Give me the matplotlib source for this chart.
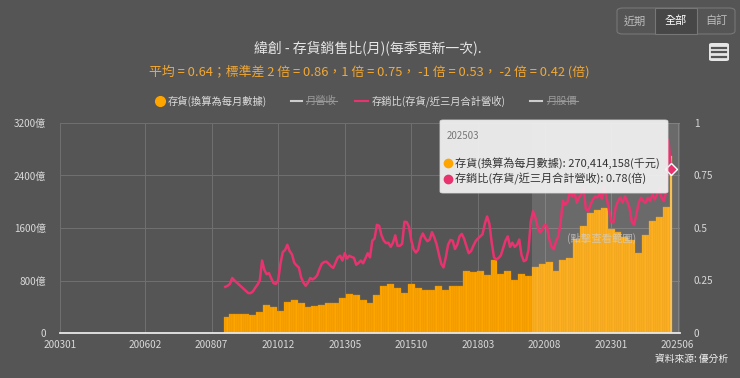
import matplotlib
matplotlib.use("Agg")
import matplotlib.pyplot as plt
from matplotlib.patches import FancyBboxPatch, Rectangle
from matplotlib.lines import Line2D
import numpy as np

plt.rcParams['font.family'] = ['Noto Sans CJK TC', 'DejaVu Sans']

# ---- data ----
tick_labels = ['200301', '200602', '200807', '201012', '201305',
               '201510', '201803', '202008', '202301', '202506']
first_month = '200901'
last_month = '202503'

# inventory in 億, one value per quarter report (2008Q4 .. 2025Q1);
# each value is shown from its quarter-end month until the next report
inventory_q = [241, 287, 287, 287, 277,
               313, 426, 395, 338,
               466, 500, 460, 395,
               415, 425, 456, 456,
               538, 595, 584, 508,
               456, 579, 723, 743,
               692, 610, 754, 682,
               651, 651, 723, 661,
               723, 723, 948, 928,
               948, 877, 1112, 892,
               943, 805, 892, 866,
               1010, 1046, 1082, 943,
               1112, 1149, 1430, 1626,
               1830, 1881, 1902, 1584,
               1533, 1456, 1420, 1215,
               1500, 1700, 1770, 1920,
               2704]

# inventory / last three months revenue, monthly 200901 .. 202503
ratio = [0.22, 0.225, 0.234, 0.262, 0.25, 0.24, 0.23, 0.22, 0.21, 0.20, 0.19, 0.19,
         0.198, 0.215, 0.23, 0.25, 0.345, 0.30, 0.28, 0.285, 0.26, 0.237, 0.234, 0.25,
         0.33, 0.385, 0.395, 0.42, 0.39, 0.375, 0.335, 0.322, 0.312, 0.265, 0.24, 0.225,
         0.24, 0.262, 0.255, 0.262, 0.275, 0.305, 0.33, 0.338, 0.34, 0.33, 0.318, 0.31,
         0.335, 0.36, 0.368, 0.345, 0.38, 0.355, 0.368, 0.362, 0.358, 0.325, 0.333, 0.345,
         0.332, 0.355, 0.38, 0.36, 0.44, 0.45, 0.515, 0.51, 0.465, 0.44, 0.428, 0.43,
         0.41, 0.43, 0.465, 0.415, 0.415, 0.425, 0.53, 0.528, 0.505, 0.44, 0.398, 0.383,
         0.397, 0.45, 0.474, 0.452, 0.437, 0.445, 0.48, 0.455, 0.423, 0.375, 0.33, 0.312,
         0.36, 0.42, 0.443, 0.44, 0.40, 0.42, 0.46, 0.472, 0.448, 0.413, 0.38, 0.39,
         0.415, 0.437, 0.45, 0.46, 0.47, 0.52, 0.555, 0.52, 0.43, 0.36, 0.35, 0.357,
         0.37, 0.405, 0.44, 0.46, 0.41, 0.43, 0.41, 0.42, 0.445, 0.37, 0.342, 0.348,
         0.395, 0.53, 0.58, 0.55, 0.505, 0.478, 0.492, 0.515, 0.51, 0.45, 0.413, 0.398,
         0.437, 0.46, 0.525, 0.63, 0.61, 0.625, 0.67, 0.65, 0.675, 0.62, 0.645, 0.66,
         0.69, 0.59, 0.58, 0.61, 0.635, 0.65, 0.645, 0.66, 0.64, 0.70, 0.645, 0.59,
         0.53, 0.527, 0.60, 0.628, 0.645, 0.62, 0.652, 0.628, 0.596, 0.53, 0.515, 0.565,
         0.62, 0.644, 0.628, 0.62, 0.644, 0.628, 0.66, 0.636, 0.66, 0.69, 0.644, 0.628,
         0.676, 0.92, 0.78]

zoom_from = '202003'


def month_index(s):
    # months since 200301
    return (int(s[:4]) - 2003) * 12 + int(s[4:]) - 1


BG = '#555555'
ORANGE = '#ffa500'
PINK = '#e8336f'

W, H = 740, 378
fig = plt.figure(figsize=(W / 100, H / 100), dpi=100)
fig.set_facecolor(BG)


def px(x):
    return x / W


def py(y):
    return 1 - y / H


ax = fig.add_axes([px(60), py(333), px(680) - px(60), py(123) - py(333)])
ax.set_facecolor(BG)
ax2 = ax.twinx()

months = np.arange(month_index(first_month), month_index(last_month) + 1)
# first report covers 200901-200902, last one only 202503
span = [2] + [3] * (len(inventory_q) - 2) + [1]
inv_monthly = np.repeat(inventory_q, span)

bar_colors = [ORANGE] * len(months)
bar_colors[-1] = '#ffc24a'
ax.bar(months, inv_monthly, width=1.0, color=bar_colors, edgecolor='#d98a00',
       linewidth=0.25, zorder=2)
ax.axvspan(month_index(zoom_from) - 0.5, 270, color='white', alpha=0.13, lw=0, zorder=3)

ax.set_xlim(0, 270)
ax.set_ylim(0, 3200)
ax.set_yticks([0, 800, 1600, 2400, 3200])
ax.set_yticklabels(['0', '800億', '1600億', '2400億', '3200億'])
ax.set_xticks([month_index(t) for t in tick_labels])
ax.set_xticklabels(tick_labels)
ax.grid(True, color='#707070', linewidth=0.7, zorder=0)
ax.set_axisbelow(True)
for s in ['top', 'right', 'left']:
    ax.spines[s].set_visible(False)
ax.spines['bottom'].set_color('#e8e8e8')
ax.spines['bottom'].set_linewidth(1.3)
ax.tick_params(axis='both', length=0, labelsize=7.2, colors='#d8d8d8')
ax.tick_params(axis='x', pad=5)
ax.tick_params(axis='y', pad=10)

ax2.plot(months, ratio, color=PINK, linewidth=1.8, zorder=4)
ax2.plot(months[-1], ratio[-1], marker='D', markersize=6, color=PINK,
         markeredgecolor='white', markeredgewidth=1, zorder=5)
ax2.set_ylim(0, 1)
ax2.set_yticks([0, 0.25, 0.5, 0.75, 1])
ax2.set_yticklabels(['0', '0.25', '0.5', '0.75', '1'])
for s in ax2.spines.values():
    s.set_visible(False)
ax2.tick_params(axis='y', length=0, labelsize=7.2, colors='#d8d8d8', pad=10)

fig.text(px(602), py(238), '(點擊查看範圍)', ha='center', va='center', fontsize=7.5,
         color='#d0d0d0', alpha=0.75, zorder=6)

# titles
fig.text(px(368), py(48), '緯創 - 存貨銷售比(月)(每季更新一次).', ha='center', va='center',
         fontsize=10, color='#e6e6e6')
fig.text(px(369), py(72),
         '平均 = 0.64；標準差 2 倍 = 0.86，1 倍 = 0.75， -1 倍 = 0.53， -2 倍 = 0.42 (倍)',
         ha='center', va='center', fontsize=9.3, color='#f3a833')

# legend
ly = py(101)
fig.add_artist(Line2D([px(160)], [ly], marker='o', markersize=7, color=ORANGE,
                      transform=fig.transFigure))
fig.text(px(168), ly, '存貨(換算為每月數據)', va='center', fontsize=7.4, color='#dcdcdc')
fig.add_artist(Line2D([px(291), px(302)], [ly, ly], color='#cccccc', lw=1.5,
                      transform=fig.transFigure))
t_rev = fig.text(px(306), ly, '月營收', va='center', fontsize=7.4, color='#9a9a9a')
fig.add_artist(Line2D([px(355), px(368)], [ly, ly], color=PINK, lw=1.5,
                      transform=fig.transFigure))
fig.text(px(372), ly, '存銷比(存貨/近三月合計營收)', va='center', fontsize=7.4, color='#dcdcdc')
fig.add_artist(Line2D([px(530), px(542)], [ly, ly], color='#cccccc', lw=1.5,
                      transform=fig.transFigure))
t_px = fig.text(px(547), ly, '月股價', va='center', fontsize=7.4, color='#9a9a9a')

# range buttons
fig.add_artist(FancyBboxPatch((px(617), py(34)), px(735) - px(617), py(8) - py(34),
                              boxstyle='round,pad=0,rounding_size=0.008',
                              transform=fig.transFigure, facecolor=BG,
                              edgecolor='#777777', lw=0.8))
fig.add_artist(Rectangle((px(655), py(34)), px(697) - px(655), py(8) - py(34),
                         transform=fig.transFigure, facecolor='#474747',
                         edgecolor='#777777', lw=0.8))
for bx, lab, c in [(635, '近期', '#bdbdbd'), (676, '全部', '#ffffff'), (716, '自訂', '#bdbdbd')]:
    fig.text(px(bx), py(21), lab, ha='center', va='center', fontsize=8, color=c)

# menu icon
fig.add_artist(FancyBboxPatch((px(709), py(61)), px(729) - px(709), py(43) - py(61),
                              boxstyle='round,pad=0,rounding_size=0.004',
                              transform=fig.transFigure, facecolor='#e6e6e6',
                              edgecolor='none'))
for yy in [47.5, 52, 56.5]:
    fig.add_artist(Line2D([px(712), px(726)], [py(yy), py(yy)], color='#555555', lw=1.6,
                          transform=fig.transFigure))

# tooltip
fig.add_artist(FancyBboxPatch((px(440), py(193)), px(668) - px(440), py(120) - py(193),
                              boxstyle='round,pad=0,rounding_size=0.004',
                              transform=fig.transFigure, facecolor='#f4f4f4',
                              edgecolor='#dddddd', lw=0.6, alpha=0.92, zorder=10))
fig.text(px(447), py(136), '202503', va='center', fontsize=7, color='#777777', zorder=11)
fig.add_artist(Line2D([px(448)], [py(163)], marker='o', markersize=6, color=ORANGE,
                      transform=fig.transFigure, zorder=11))
fig.text(px(455), py(163), '存貨(換算為每月數據): 270,414,158(千元)', va='center',
         fontsize=8, color='#333333', zorder=11)
fig.add_artist(Line2D([px(448)], [py(179)], marker='o', markersize=6, color=PINK,
                      transform=fig.transFigure, zorder=11))
fig.text(px(455), py(179), '存銷比(存貨/近三月合計營收): 0.78(倍)', va='center',
         fontsize=8, color='#333333', zorder=11)

fig.text(px(728), py(359), '資料來源: 優分析', ha='right', va='center', fontsize=7,
         color='#eeeeee')

# strike through the hidden legend items
fig.canvas.draw()
r = fig.canvas.get_renderer()
for t in [t_rev, t_px]:
    bb = t.get_window_extent(r)
    ym = (bb.y0 + bb.y1) / 2
    fig.add_artist(Line2D([bb.x0 / W, bb.x1 / W], [ym / H, ym / H], color='#9a9a9a',
                          lw=0.8, transform=fig.transFigure))

fig.savefig('out.png', dpi=100, facecolor=BG)
